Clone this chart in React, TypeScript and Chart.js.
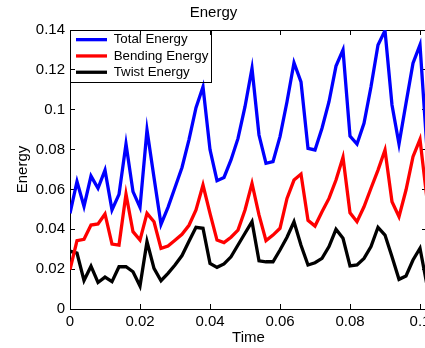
import React, { useEffect, useRef } from 'react';
import { Chart, registerables } from 'chart.js';

Chart.register(...registerables);

const times = [
  0, 0.002, 0.004, 0.006, 0.008, 0.01, 0.012, 0.014, 0.016, 0.018,
  0.02, 0.022, 0.024, 0.026, 0.028, 0.03, 0.032, 0.034, 0.036, 0.038,
  0.04, 0.042, 0.044, 0.046, 0.048, 0.05, 0.052, 0.054, 0.056, 0.058,
  0.06, 0.062, 0.064, 0.066, 0.068, 0.07, 0.072, 0.074, 0.076, 0.078,
  0.08, 0.082, 0.084, 0.086, 0.088, 0.09, 0.092, 0.094, 0.096, 0.098,
  0.1, 0.102,
];

const totalEnergy = [
  0.048, 0.064, 0.0515, 0.0667, 0.0606, 0.0697, 0.0497, 0.0575, 0.0828, 0.0589,
  0.051, 0.0898, 0.066, 0.0425, 0.051, 0.061, 0.071, 0.085, 0.101, 0.1115,
  0.08, 0.0644, 0.066, 0.0748, 0.0856, 0.1015, 0.1208, 0.0873, 0.0731, 0.0739,
  0.0865, 0.104, 0.1236, 0.114, 0.0806, 0.0798, 0.0907, 0.104, 0.1219, 0.13,
  0.0868, 0.0828, 0.0932, 0.1115, 0.1325, 0.1397, 0.1024, 0.0828, 0.1032, 0.1233,
  0.1325, 0.08,
];

const bendingEnergy = [
  0.0198, 0.0343, 0.035, 0.0421, 0.0427, 0.0477, 0.0326, 0.0321, 0.0577, 0.0388,
  0.0346, 0.048, 0.0438, 0.0304, 0.0316, 0.0345, 0.0375, 0.042, 0.0497, 0.0622,
  0.048, 0.0346, 0.0333, 0.036, 0.0396, 0.0497, 0.063, 0.0472, 0.0343, 0.0371,
  0.0405, 0.0555, 0.0647, 0.0677, 0.0445, 0.0416, 0.0488, 0.0555, 0.0647, 0.0761,
  0.0483, 0.0438, 0.0513, 0.0606, 0.0697, 0.0798, 0.0538, 0.0463, 0.0597, 0.0764,
  0.0851, 0.055,
];

const twistEnergy = [
  0.029, 0.028, 0.0143, 0.0215, 0.0133, 0.016, 0.0137, 0.0212, 0.0212, 0.0187,
  0.0115, 0.0338, 0.0204, 0.0142, 0.0179, 0.0221, 0.0268, 0.034, 0.041, 0.0405,
  0.0229, 0.0209, 0.0226, 0.0262, 0.0321, 0.038, 0.0438, 0.0242, 0.0237, 0.0237,
  0.0296, 0.036, 0.0438, 0.032, 0.0221, 0.0232, 0.0254, 0.0313, 0.04, 0.0355,
  0.0216, 0.0221, 0.0254, 0.0313, 0.041, 0.0371, 0.0262, 0.0149, 0.0166, 0.0246,
  0.0305, 0.012,
];

const seriesLabels = ['Total Energy', 'Bending Energy', 'Twist Energy'];
const seriesColors = ['#0000ff', '#ff0000', '#000000'];
const seriesValues = [totalEnergy, bendingEnergy, twistEnergy];

const xTickValues = [0, 0.02, 0.04, 0.06, 0.08, 0.1];
const yTickValues = [0, 0.02, 0.04, 0.06, 0.08, 0.1, 0.12, 0.14];
const xMin = 0;
const xMax = 0.102;
const yMin = 0;
const yMax = 0.14;

const FONT = "'Liberation Sans', Arial, Helvetica, sans-serif";
const fmt = (v: number) => String(Number(Number(v).toFixed(4)));

const CANVAS_W = 450;
const CANVAS_H = 348;
const AREA_RIGHT = 427;

// Place the legend inside the top-left corner of the plot area.
const legendPlace = {
  id: 'legendPlace',
  afterLayout(chart: any) {
    const lg = chart.legend;
    const ca = chart.chartArea;
    if (lg && ca) {
      lg.left = ca.left + 3;
      lg.right = ca.right + 3;
      lg.top = ca.top;
      lg.bottom = ca.bottom;
      lg.width = lg.right - lg.left;
      lg.height = lg.bottom - lg.top;
    }
  },
};

const legendFrame = {
  id: 'legendFrame',
  afterDraw(chart: any) {
    const lg = chart.legend;
    const hb = lg && lg.legendHitBoxes;
    if (!hb || !hb.length) return;
    const ca = chart.chartArea;
    const ctx = chart.ctx;
    const right = Math.max(...hb.map((h: any) => h.left + h.width)) + 3;
    const last = hb[hb.length - 1];
    const bottom = last.top + last.height + 3.5;
    const l = Math.round(ca.left) + 0.5;
    const t = Math.round(ca.top) + 0.5;
    ctx.save();
    ctx.strokeStyle = '#000';
    ctx.lineWidth = 1;
    ctx.strokeRect(l, t, Math.round(right) - l + 0.5, Math.round(bottom) - t + 0.5);
    ctx.restore();
  },
};

function axis(
  axisName: 'x' | 'y',
  position: string,
  tickValues: number[],
  min: number,
  max: number,
  extra: any
) {
  return {
    type: 'linear',
    axis: axisName,
    position,
    min,
    max,
    afterBuildTicks: (s: any) => {
      s.ticks = tickValues.map((v) => ({ value: v }));
    },
    border: { display: true, color: '#000', width: 1 },
    grid: {
      drawOnChartArea: false,
      drawTicks: true,
      tickLength: -5,
      color: '#000',
      tickColor: '#000',
      tickWidth: 1,
    },
    ...extra,
  };
}

export default function App() {
  const canvasRef = useRef<HTMLCanvasElement | null>(null);

  useEffect(() => {
    const canvas = canvasRef.current;
    if (!canvas) return;
    Chart.defaults.font.family = FONT;
    Chart.defaults.color = '#000';

    const datasets = seriesLabels.map((label, i) => ({
      label,
      data: times.map((t, j) => ({ x: t, y: seriesValues[i][j] })),
      borderColor: seriesColors[i],
      backgroundColor: seriesColors[i],
      borderWidth: 3.3,
      pointRadius: 0,
      tension: 0,
      fill: false,
      xAxisID: 'x',
      yAxisID: 'y',
    }));

    const tickFont = { family: FONT, size: 15 };

    const chart = new Chart(canvas, {
      type: 'line',
      data: { datasets } as any,
      plugins: [legendPlace, legendFrame],
      options: {
        responsive: false,
        animation: false,
        events: [],
        layout: { padding: { left: 0, top: 0, bottom: 0, right: CANVAS_W - AREA_RIGHT } },
        scales: {
          x: axis('x', 'bottom', xTickValues, xMin, xMax, {
            ticks: {
              padding: 9,
              font: tickFont,
              color: '#000',
              maxRotation: 0,
              autoSkip: false,
              callback: (v: any) => fmt(v),
            },
            title: {
              display: true,
              text: 'Time',
              font: tickFont,
              color: '#000',
              padding: { top: 0, bottom: 1 },
            },
            afterFit: (s: any) => {
              s.height = 39;
            },
          }),
          y: axis('y', 'left', yTickValues, yMin, yMax, {
            ticks: {
              padding: 10,
              font: tickFont,
              color: '#000',
              autoSkip: false,
              callback: (v: any) => fmt(v),
            },
            title: {
              display: true,
              text: 'Energy',
              font: tickFont,
              color: '#000',
              padding: { top: 13.5, bottom: 0 },
            },
            afterFit: (s: any) => {
              s.width = 70;
            },
          }),
          x2: axis('x', 'top', xTickValues, xMin, xMax, {
            ticks: { display: false },
            afterFit: (s: any) => {
              s.height = 0;
            },
          }),
          y2: axis('y', 'right', yTickValues, yMin, yMax, {
            ticks: { display: false },
            afterFit: (s: any) => {
              s.width = 0;
            },
          }),
        } as any,
        plugins: {
          title: {
            display: true,
            text: 'Energy',
            color: '#000',
            font: { family: FONT, size: 15, weight: 'normal' },
            padding: { top: 4, bottom: 8 },
          },
          legend: {
            position: 'chartArea',
            align: 'start',
            labels: {
              usePointStyle: true,
              pointStyle: 'line',
              pointStyleWidth: 31,
              padding: 3,
              color: '#000',
              font: { family: FONT, size: 13.3 },
            },
          } as any,
          tooltip: { enabled: false },
        },
      } as any,
    });

    return () => {
      chart.destroy();
    };
  }, []);

  return (
    <div
      style={{
        position: 'fixed',
        left: 0,
        top: 0,
        width: 425,
        height: 348,
        overflow: 'hidden',
        background: '#fff',
      }}
    >
      <canvas
        ref={canvasRef}
        width={CANVAS_W}
        height={CANVAS_H}
        style={{ display: 'block', width: CANVAS_W, height: CANVAS_H }}
      />
    </div>
  );
}
